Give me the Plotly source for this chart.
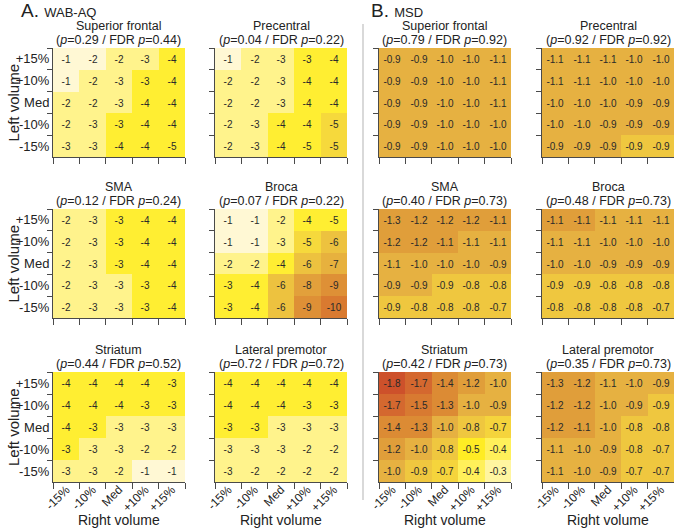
import plotly.graph_objects as go

# ---------------- data ----------------
right_vol = ["-15%", "-10%", "Med", "+10%", "+15%"]
left_vol = ["+15%", "+10%", "Med", "-10%", "-15%"]  # top to bottom

regions = ["Superior frontal", "Precentral", "SMA", "Broca", "Striatum", "Lateral premotor"]

wab_p = [0.29, 0.04, 0.12, 0.07, 0.44, 0.72]
wab_fdr = [0.44, 0.22, 0.24, 0.22, 0.52, 0.72]
msd_p = [0.79, 0.92, 0.40, 0.48, 0.42, 0.35]
msd_fdr = [0.92, 0.92, 0.73, 0.73, 0.73, 0.73]

# WAB-AQ change (rows: left volume +15% .. -15%, cols: right volume -15% .. +15%)
wab_superior_frontal = [
    [-1.0, -1.6, -2.2, -2.7, -3.8],
    [-1.2, -2.0, -2.6, -3.1, -4.0],
    [-1.9, -2.2, -2.8, -3.6, -4.2],
    [-2.1, -2.6, -3.1, -3.7, -4.3],
    [-2.6, -2.9, -3.6, -4.1, -4.6],
]
wab_precentral = [
    [-1.2, -2.1, -2.7, -3.1, -3.9],
    [-1.8, -2.2, -2.8, -3.6, -4.1],
    [-1.9, -2.3, -2.9, -3.7, -4.2],
    [-2.1, -2.6, -3.6, -4.1, -5.0],
    [-2.2, -2.8, -3.8, -4.6, -5.2],
]
wab_sma = [
    [-2.0, -2.7, -3.1, -3.8, -4.2],
    [-2.0, -2.7, -3.1, -3.8, -4.2],
    [-2.0, -2.7, -3.1, -3.8, -4.2],
    [-2.0, -2.7, -2.9, -3.2, -3.9],
    [-2.0, -2.7, -2.9, -3.2, -3.9],
]
wab_broca = [
    [-1.1, -1.3, -2.2, -3.8, -4.7],
    [-1.2, -1.4, -2.7, -5.0, -6.0],
    [-2.0, -2.2, -3.8, -6.1, -7.0],
    [-3.1, -3.8, -6.2, -8.0, -9.0],
    [-3.2, -4.0, -6.3, -9.0, -10.0],
]
wab_striatum = [
    [-4.0, -4.0, -3.9, -3.6, -3.2],
    [-3.9, -3.8, -3.6, -3.2, -3.1],
    [-3.6, -3.4, -2.9, -2.8, -2.7],
    [-3.1, -2.8, -2.6, -2.2, -2.0],
    [-2.7, -2.6, -2.0, -1.4, -1.2],
]
wab_lateral_premotor = [
    [-4.2, -4.1, -4.0, -3.8, -3.6],
    [-3.9, -3.8, -3.6, -3.2, -3.1],
    [-3.2, -3.1, -2.9, -2.8, -2.7],
    [-2.9, -2.8, -2.6, -2.3, -2.1],
    [-2.6, -2.4, -2.3, -2.1, -2.0],
]

# MSD change
msd_superior_frontal = [
    [-0.92, -0.93, -0.98, -1.02, -1.08],
    [-0.92, -0.93, -0.98, -1.02, -1.07],
    [-0.92, -0.93, -0.98, -1.01, -1.06],
    [-0.92, -0.93, -0.97, -1.00, -1.04],
    [-0.91, -0.93, -0.97, -1.00, -1.03],
]
msd_precentral = [
    [-1.08, -1.07, -1.06, -1.03, -1.00],
    [-1.06, -1.06, -1.03, -1.00, -0.98],
    [-1.02, -1.01, -0.98, -0.94, -0.93],
    [-1.00, -0.98, -0.94, -0.92, -0.91],
    [-0.94, -0.93, -0.91, -0.88, -0.86],
]
msd_sma = [
    [-1.28, -1.22, -1.20, -1.18, -1.13],
    [-1.22, -1.18, -1.14, -1.08, -1.06],
    [-1.06, -1.02, -0.99, -0.96, -0.93],
    [-0.93, -0.91, -0.88, -0.83, -0.78],
    [-0.88, -0.84, -0.81, -0.78, -0.72],
]
msd_broca = [
    [-1.14, -1.13, -1.10, -1.08, -1.06],
    [-1.09, -1.07, -1.04, -1.01, -0.98],
    [-1.02, -0.99, -0.94, -0.92, -0.91],
    [-0.89, -0.87, -0.83, -0.80, -0.78],
    [-0.84, -0.81, -0.79, -0.77, -0.72],
]
msd_striatum = [
    [-1.80, -1.68, -1.38, -1.20, -1.00],
    [-1.68, -1.52, -1.32, -0.98, -0.92],
    [-1.38, -1.31, -1.00, -0.80, -0.68],
    [-1.18, -1.00, -0.80, -0.52, -0.42],
    [-0.98, -0.88, -0.68, -0.38, -0.32],
]
msd_lateral_premotor = [
    [-1.28, -1.22, -1.10, -1.02, -0.92],
    [-1.22, -1.18, -1.02, -0.93, -0.88],
    [-1.16, -1.13, -0.98, -0.82, -0.78],
    [-1.08, -1.02, -0.92, -0.80, -0.72],
    [-1.06, -0.98, -0.91, -0.72, -0.71],
]

wab_data = [wab_superior_frontal, wab_precentral, wab_sma, wab_broca, wab_striatum, wab_lateral_premotor]
msd_data = [msd_superior_frontal, msd_precentral, msd_sma, msd_broca, msd_striatum, msd_lateral_premotor]

# ---------------- styling ----------------
W, H = 675, 532
FONT = "Liberation Sans, Arial, sans-serif"
AXC = "#4a4a4a"


def stepped(edges, colors, zmin, zmax):
    cs = []
    n = len(colors)
    for i, c in enumerate(colors):
        lo = zmin if i == 0 else edges[i - 1]
        hi = zmax if i == n - 1 else edges[i]
        cs.append([(lo - zmin) / (zmax - zmin), c])
        cs.append([(hi - zmin) / (zmax - zmin), c])
    return cs


WAB_MIN, WAB_MAX = -11.5, 0.0
wab_cs = stepped([-10.6, -9.6, -8.6, -7.6, -6.6, -5.6, -4.8, -3.0, -1.7],
                 ["#D2602C", "#D97A30", "#DE9036", "#E2A03B", "#E7B13E", "#EDC23F",
                  "#F6D93C", "#FFEE32", "#FFF38C", "#FFF8D4"], WAB_MIN, WAB_MAX)
MSD_MIN, MSD_MAX = -2.0, 0.0
msd_cs = stepped([-1.75, -1.6, -1.45, -1.3, -1.12, -0.9, -0.7, -0.6, -0.45, -0.35],
                 ["#CD512B", "#D4682F", "#D87A31", "#DC8B34", "#E09E3A", "#E6B141",
                  "#EFC73F", "#F5D43C", "#FFEC24", "#FFF05A", "#FFF5A0"], MSD_MIN, MSD_MAX)

# panel boxes in screen pixels
col_px = [(53, 185), (215, 347), (379, 511), (542, 674)]
row_px = [(48, 157), (209, 318), (372, 482)]


def px(x):
    return x / W


def py(y):
    return 1 - y / H


fig = go.Figure()
annotations = []
k = 0
for measure in range(2):
    data = wab_data if measure == 0 else msd_data
    ps = wab_p if measure == 0 else msd_p
    fdrs = wab_fdr if measure == 0 else msd_fdr
    for ri, name in enumerate(regions):
        k += 1
        r = ri // 2
        c = measure * 2 + ri % 2
        z = data[ri]
        fmt = "{:.0f}" if measure == 0 else "{:.1f}"
        text = [[fmt.format(v) for v in row] for row in z]
        fig.add_trace(go.Heatmap(
            z=z, x=right_vol, y=left_vol, text=text, texttemplate="%{text}",
            textfont=dict(size=10, color="#2a2a2a", family=FONT),
            colorscale=wab_cs if measure == 0 else msd_cs,
            zmin=WAB_MIN if measure == 0 else MSD_MIN,
            zmax=WAB_MAX if measure == 0 else MSD_MAX,
            showscale=False, xaxis=f"x{k}", yaxis=f"y{k}", hoverinfo="skip",
        ))
        x0, x1 = col_px[c]
        y0, y1 = row_px[r]
        fig.layout[f"xaxis{k}"] = dict(
            domain=[px(x0), px(x1)], anchor=f"y{k}", type="category",
            categoryorder="array", categoryarray=right_vol, automargin=False,
            range=[-0.5, 4.5], tickson="boundaries", ticks="outside", ticklen=6,
            tickcolor=AXC, showline=True, linecolor=AXC, linewidth=1,
            showgrid=False, zeroline=False, showticklabels=(r == 2), tickangle=-45,
            ticklabelstandoff=-5,
            tickfont=dict(size=12, color="#222", family=FONT),
        )
        fig.layout[f"yaxis{k}"] = dict(
            domain=[py(y1), py(y0)], anchor=f"x{k}", type="category",
            categoryorder="array", categoryarray=left_vol, automargin=False,
            range=[4.5, -0.5], tickson="boundaries", ticks="outside", ticklen=5,
            tickcolor=AXC, showline=True, linecolor=AXC, linewidth=1,
            showgrid=False, zeroline=False, showticklabels=(c == 0),
            tickfont=dict(size=13, color="#222", family=FONT),
        )
        xc = px((x0 + x1) / 2)
        annotations.append(dict(
            x=xc, y=py(y0 - 22), xref="paper", yref="paper",
            xanchor="center", yanchor="middle", showarrow=False,
            text=name, font=dict(size=12.5, color="#222", family=FONT),
        ))
        annotations.append(dict(
            x=xc, y=py(y0 - 8), xref="paper", yref="paper",
            xanchor="center", yanchor="middle", showarrow=False,
            text=f"(<i>p</i>={ps[ri]:.2f} / FDR <i>p</i>={fdrs[ri]:.2f})",
            font=dict(size=12.5, color="#222", family=FONT),
        ))
        if c == 0:
            annotations.append(dict(
                x=px(13), y=py((y0 + y1) / 2), xref="paper", yref="paper",
                xanchor="center", yanchor="middle", showarrow=False, textangle=-90,
                text="Left volume", font=dict(size=15, color="#222", family=FONT),
            ))
        if r == 2:
            annotations.append(dict(
                x=xc, y=py(520), xref="paper", yref="paper",
                xanchor="center", yanchor="middle", showarrow=False,
                text="Right volume", font=dict(size=14, color="#222", family=FONT),
            ))

annotations.append(dict(x=px(19), y=py(10), xref="paper", yref="paper",
                        xanchor="left", yanchor="middle", showarrow=False,
                        text="A. <span style='font-size:13px'>WAB-AQ</span>",
                        font=dict(size=19, color="#222", family=FONT)))
annotations.append(dict(x=px(369), y=py(10), xref="paper", yref="paper",
                        xanchor="left", yanchor="middle", showarrow=False,
                        text="B. <span style='font-size:13px'>MSD</span>",
                        font=dict(size=19, color="#222", family=FONT)))

fig.update_layout(
    width=W, height=H, margin=dict(l=0, r=0, t=0, b=0),
    paper_bgcolor="white", plot_bgcolor="white",
    annotations=annotations, showlegend=False,
    font=dict(family=FONT),
    shapes=[dict(type="line", xref="paper", yref="paper",
                 x0=px(363), x1=px(363), y0=py(500), y1=py(24),
                 line=dict(color="#c0c0c0", width=1.2))],
)

fig.write_html("out.html", config={"displayModeBar": False},
               post_script="document.body.style.margin='0px';document.body.style.overflow='hidden';")
